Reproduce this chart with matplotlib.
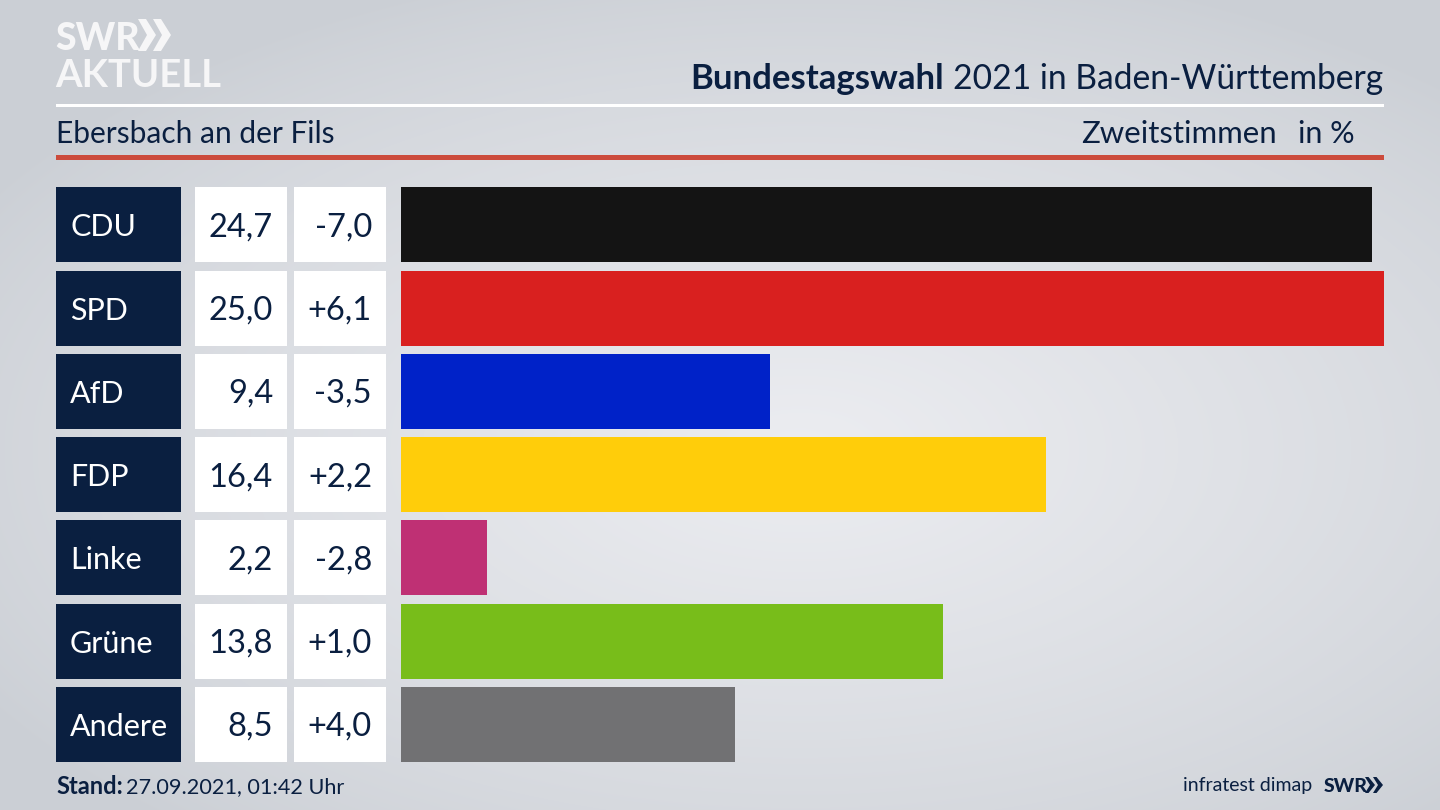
import matplotlib
matplotlib.use("Agg")
import matplotlib.pyplot as plt
from matplotlib.patches import Polygon, Rectangle
import numpy as np

plt.rcParams["font.family"] = ["Lato", "DejaVu Sans"]

parties = ["CDU", "SPD", "AfD", "FDP", "Linke", "Grüne", "Andere"]
shares = [24.7, 25.0, 9.4, 16.4, 2.2, 13.8, 8.5]
share_labels = ["24,7", "25,0", "9,4", "16,4", "2,2", "13,8", "8,5"]
diff_labels = ["-7,0", "+6,1", "-3,5", "+2,2", "-2,8", "+1,0", "+4,0"]
colors = ["#141414", "#d9201f", "#0022c8", "#ffcd0a", "#bf3074", "#78bd1a", "#717173"]

NAVY = "#0a1f40"
W, H = 1440, 810

fig = plt.figure(figsize=(14.4, 8.1), dpi=100)

# whole figure in pixel coords, y pointing down
bg = fig.add_axes([0, 0, 1, 1])
bg.set_xlim(0, W)
bg.set_ylim(H, 0)
bg.axis("off")

# background glow
yy, xx = np.mgrid[0:H, 0:W]
r = np.sqrt(((xx - 800) / 950) ** 2 + ((yy - 450) / 500) ** 2)
glow = np.clip(1 - r, 0, 1) ** 0.8
top = np.array([203, 207, 213]) / 255
mid = np.array([236, 237, 241]) / 255
img = top + (mid - top) * glow[..., None]
bg.imshow(img, extent=(0, W, H, 0), aspect="auto", zorder=0)
bg.set_xlim(0, W)
bg.set_ylim(H, 0)

# logo
bg.text(55, 50, "SWR", fontsize=27, fontweight="black", color="#f6f6f7", va="baseline", ha="left")
bg.text(55, 87, "AKTUELL", fontsize=27.5, fontweight="bold", color="#f6f6f7", va="baseline", ha="left")
for x0 in (138, 153):
    bg.add_patch(Polygon([(x0, 19), (x0 + 8, 19), (x0 + 18, 35), (x0 + 8, 51), (x0, 51), (x0 + 9, 35)],
                         closed=True, color="#f6f6f7", lw=0))

# header
bg.text(944, 79, "Bundestagswahl", fontsize=25, fontweight="bold", color=NAVY, va="center", ha="right")
bg.text(953, 79, "2021 in Baden-Württemberg", fontsize=24.2, color=NAVY, va="center", ha="left")
bg.add_patch(Rectangle((56, 104), 1328, 3, color="white", lw=0))
bg.text(56, 134, "Ebersbach an der Fils", fontsize=21.5, color=NAVY, va="center", ha="left")
bg.text(1277, 134, "Zweitstimmen", fontsize=22.4, color=NAVY, va="center", ha="right")
bg.text(1355, 134, "in %", fontsize=22, color=NAVY, va="center", ha="right")
bg.add_patch(Rectangle((56, 155), 1328, 5, color="#cc4b3c", lw=0))

# table cells
row_top = 187.3
row_h = 75
row_step = 83.25
for i, party in enumerate(parties):
    y = row_top + i * row_step
    yc = y + row_h / 2 + 2.5
    bg.add_patch(Rectangle((56, y), 125, row_h, color=NAVY, lw=0))
    bg.add_patch(Rectangle((195, y), 92, row_h, color="white", lw=0))
    bg.add_patch(Rectangle((294, y), 92, row_h, color="white", lw=0))
    bg.text(70, yc, party, fontsize=22, color="white", va="center", ha="left")
    bg.text(273, yc, share_labels[i], fontsize=23.5, color=NAVY, va="center", ha="right")
    bg.text(372, yc, diff_labels[i], fontsize=23.5, color=NAVY, va="center", ha="right")

# bars
left, right = 400.5, 1384
bottom = row_top + 6 * row_step + row_h
ax = fig.add_axes([left / W, 1 - bottom / H, (right - left) / W, (bottom - row_top) / H])
ax.patch.set_alpha(0)
ax.barh(range(len(parties)), shares, height=row_h / row_step, color=colors, lw=0)
ax.set_xlim(0, 25)
ax.set_ylim(6 + row_h / row_step / 2, -row_h / row_step / 2)
ax.axis("off")

# footer
bg.text(56, 787, "Stand:", fontsize=17, fontweight="bold", color=NAVY, va="center", ha="left")
bg.text(126, 787, "27.09.2021, 01:42 Uhr", fontsize=15.6, color=NAVY, va="center", ha="left")
bg.text(1312, 786, "infratest dimap", fontsize=14, color=NAVY, va="center", ha="right")
bg.text(1324, 786, "SWR", fontsize=14, fontweight="black", color=NAVY, va="center", ha="left")
for x0 in (1365, 1373):
    bg.add_patch(Polygon([(x0, 777), (x0 + 3.5, 777), (x0 + 10, 785), (x0 + 3.5, 793), (x0, 793), (x0 + 5, 785)],
                         closed=True, color=NAVY, lw=0))

fig.savefig("out.png", dpi=100)
